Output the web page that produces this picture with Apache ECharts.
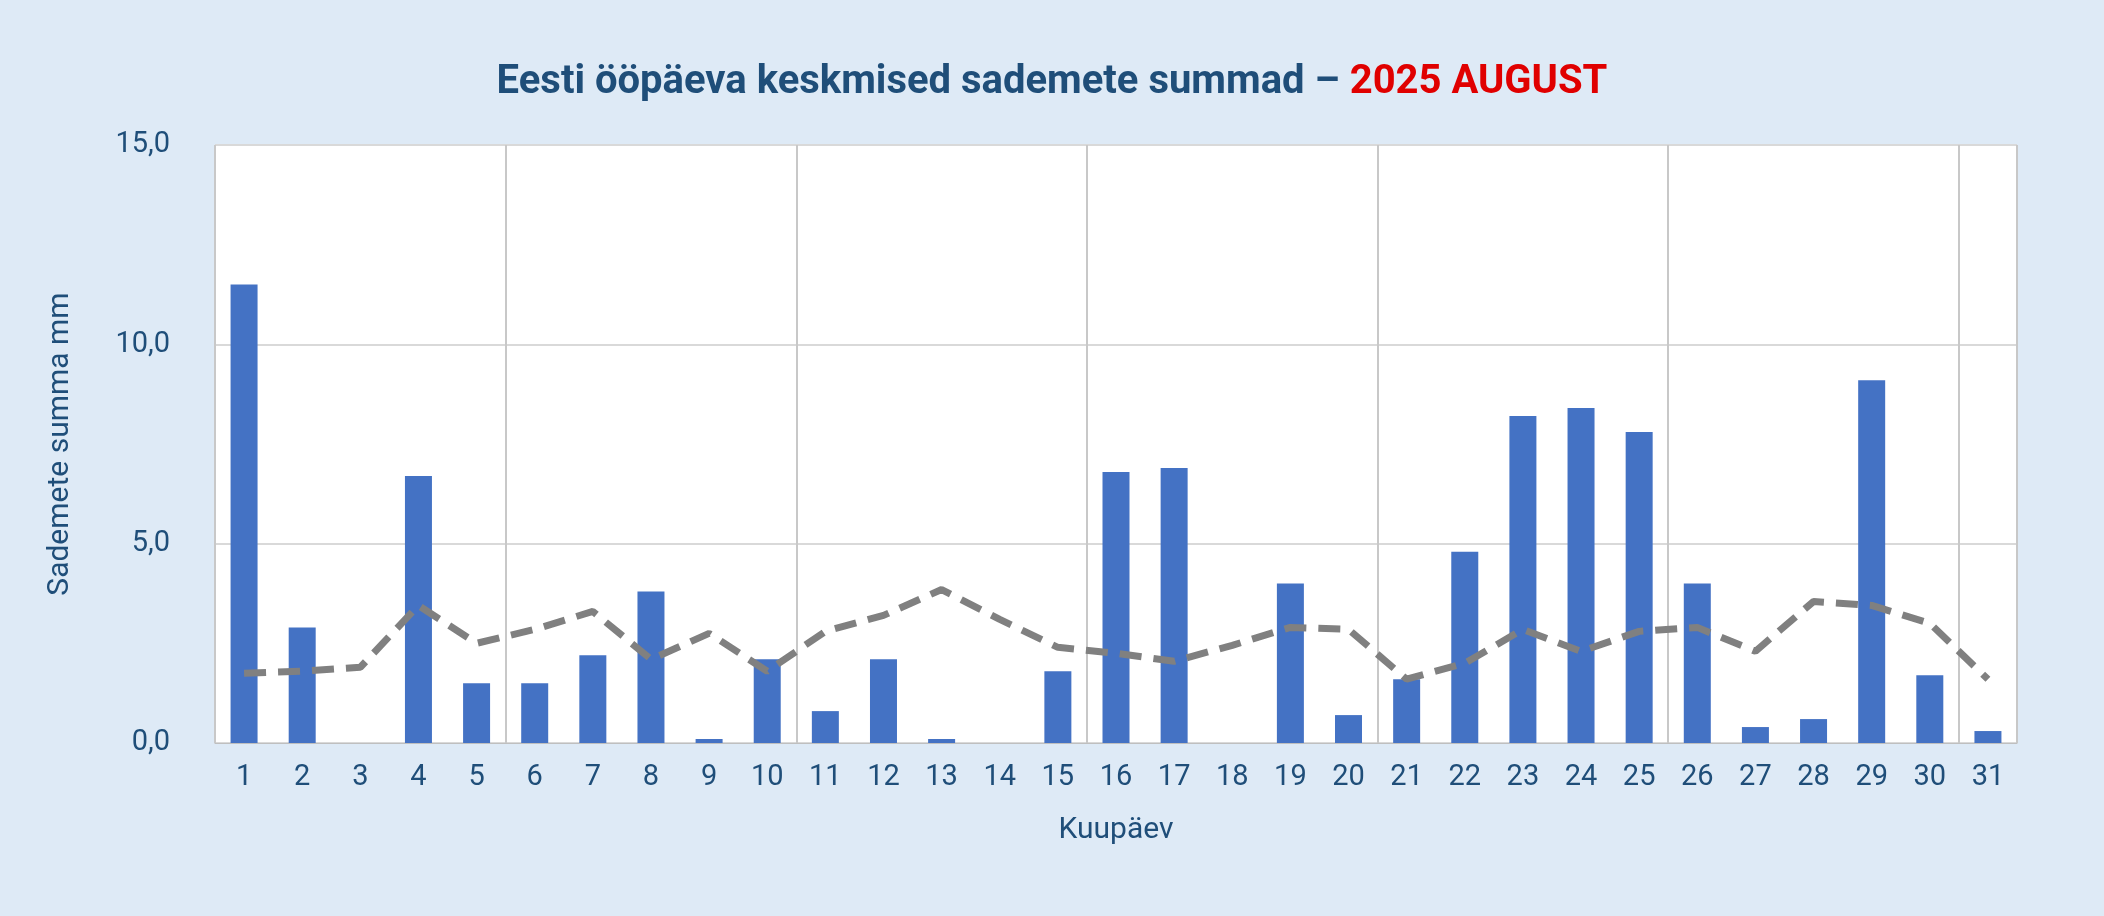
<!DOCTYPE html><html><head><meta charset="utf-8"><script src="https://cdn.jsdelivr.net/npm/echarts@6/dist/echarts.min.js"></script>
<style>html,body{margin:0;background:#deeaf6}#c{width:2104px;height:916px}</style></head><body><div id="c"></div><script>
const categories=Array.from({length:31},(_,i)=>String(i+1));
const rainfall=[11.5,2.9,0,6.7,1.5,1.5,2.2,3.8,0.1,2.1,0.8,2.1,0.1,0,1.8,6.8,6.9,0,4.0,0.7,1.6,4.8,8.2,8.4,7.8,4.0,0.4,0.6,9.1,1.7,0.3];
const normal=[1.75,1.8,1.9,3.45,2.5,2.85,3.3,2.1,2.75,1.8,2.8,3.2,3.85,3.1,2.4,2.25,2.05,2.45,2.9,2.85,1.6,2.0,2.85,2.3,2.8,2.9,2.3,3.55,3.45,3.0,1.6];
const yTicks=[0,5,10,15];
const c=echarts.init(document.getElementById('c'));
const F='Roboto, sans-serif', col='#1f4e79';
c.setOption({backgroundColor:'#deeaf6',
title:{text:'{a|Eesti ööpäeva keskmised sademete summad – }{b|2025 AUGUST}',left:'center',top:58,textStyle:{rich:{a:{fontSize:40,color:col,fontFamily:F},b:{fontSize:40,color:'#e00000',fontFamily:F}}}},
grid:{left:215,right:87,top:145,bottom:173,backgroundColor:'#fff',show:true,borderWidth:0},
xAxis:{type:'category',data:categories,name:'Kuupäev',nameLocation:'middle',nameGap:72,nameTextStyle:{fontSize:30,color:col,fontFamily:F},
axisLine:{lineStyle:{color:'#bfbfbf'}},axisTick:{show:false},axisLabel:{fontSize:29,color:col,fontFamily:F,margin:20},
splitLine:{show:true,interval:4,lineStyle:{color:'#c8c8c8',width:2}}},
yAxis:{type:'value',min:0,max:15,interval:5,name:'Sademete summa mm',nameLocation:'middle',nameGap:140,nameTextStyle:{fontSize:30,color:col,fontFamily:F},
axisLabel:{fontSize:29,color:col,fontFamily:F,margin:45,formatter:v=>v.toFixed(1).replace('.',',')},splitLine:{lineStyle:{color:'#d9d9d9',width:2}},axisLine:{show:false}},
series:[{type:'bar',data:rainfall,barWidth:27,itemStyle:{color:'#4472c4'}},
{type:'line',data:normal,symbol:'none',lineStyle:{color:'#808080',width:7,type:[22,12]}}]});
</script></body></html>
